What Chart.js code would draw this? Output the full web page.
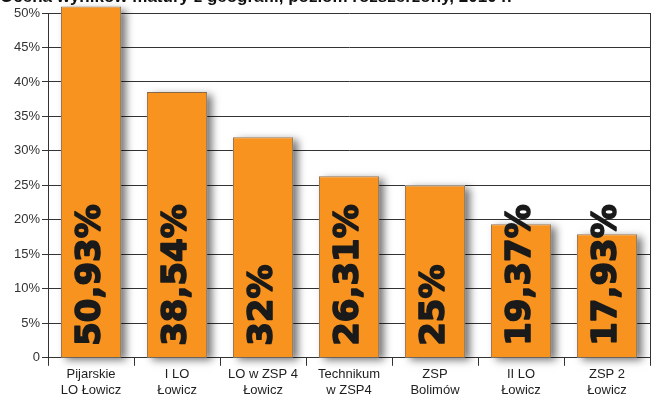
<!DOCTYPE html>
<html>
<head>
<meta charset="utf-8">
<script src="https://cdn.jsdelivr.net/npm/chart.js@4"></script>
<style>
  html, body { margin: 0; padding: 0; background: #fff; }
  #wrap { width: 657px; height: 401px; }
</style>
</head>
<body>
<div id="wrap"><canvas id="wykres"></canvas></div>
<script>
// dane
const szkoly = [
  ["Pijarskie", "LO Łowicz"],
  ["I LO", "Łowicz"],
  ["LO w ZSP 4", "Łowicz"],
  ["Technikum", "w ZSP4"],
  ["ZSP", "Bolimów"],
  ["II LO", "Łowicz"],
  ["ZSP 2", "Łowicz"],
];
const wyniki = [50.93, 38.54, 32, 26.31, 25, 19.37, 17.93];
const podzialkaY = [0, 5, 10, 15, 20, 25, 30, 35, 40, 45, 50];
const tytul = "Ocena wyników matury z geografii, poziom rozszerzony, 2010 r.";

const kolorSlupka = "#f7931e";
const kolorRamki = "#8c6a48";

// cień pod słupkami (rysowany przed słupkami)
const cienSlupkow = {
  id: "cienSlupkow",
  beforeDatasetsDraw(chart) {
    const ctx = chart.ctx;
    const meta = chart.getDatasetMeta(0);
    ctx.save();
    ctx.fillStyle = "#fff";
    ctx.shadowColor = "rgba(0,0,0,0.55)";
    ctx.shadowBlur = 8;
    ctx.shadowOffsetX = 5;
    ctx.shadowOffsetY = 3;
    meta.data.forEach((bar) => {
      const p = bar.getProps(["x", "y", "base", "width"], true);
      ctx.fillRect(p.x - p.width / 2, p.y, p.width, p.base - p.y);
    });
    ctx.restore();
  },
};

// pionowe napisy z wartościami + prawa krawędź + obcięty tytuł
const napisy = {
  id: "napisy",
  afterDatasetsDraw(chart) {
    const ctx = chart.ctx;
    const meta = chart.getDatasetMeta(0);
    const y0 = chart.scales.y.getPixelForValue(0);
    ctx.save();
    ctx.fillStyle = "#1a1a1a";
    ctx.strokeStyle = "#1a1a1a";
    ctx.lineWidth = 1.6;
    ctx.lineJoin = "round";
    ctx.font = "bold 34px 'DejaVu Sans'";
    ctx.textAlign = "left";
    ctx.textBaseline = "middle";
    meta.data.forEach((bar, i) => {
      const txt = String(wyniki[i]).replace(".", ",") + "%";
      ctx.save();
      ctx.translate(bar.x, y0 - 12);
      ctx.rotate(-Math.PI / 2);
      ctx.fillText(txt, 0, 0);
      ctx.strokeText(txt, 0, 0);
      ctx.restore();
    });
    ctx.restore();
  },
  afterDraw(chart) {
    const ctx = chart.ctx;
    const a = chart.chartArea;
    ctx.save();
    ctx.strokeStyle = "#333";
    ctx.lineWidth = 1;
    ctx.beginPath();
    ctx.moveTo(Math.round(a.right) + 0.5, a.top);
    ctx.lineTo(Math.round(a.right) + 0.5, a.bottom);
    ctx.stroke();
    ctx.fillStyle = "#111";
    ctx.font = "bold 17px 'Liberation Sans'";
    ctx.textAlign = "left";
    ctx.textBaseline = "alphabetic";
    ctx.fillText(tytul, 0, 2);
    ctx.restore();
  },
};

new Chart(document.getElementById("wykres"), {
  type: "bar",
  data: {
    labels: szkoly,
    datasets: [
      {
        data: wyniki,
        backgroundColor: kolorSlupka,
        borderColor: kolorRamki,
        borderWidth: 1,
        barPercentage: 0.7,
        categoryPercentage: 1,
        clip: false,
      },
    ],
  },
  options: {
    responsive: true,
    maintainAspectRatio: false,
    animation: false,
    layout: { padding: { top: 13, right: 7, left: 12, bottom: 2 } },
    plugins: {
      legend: { display: false },
      tooltip: { enabled: false },
    },
    scales: {
      x: {
        grid: {
          offset: true,
          drawOnChartArea: false,
          drawTicks: true,
          tickLength: 8,
          color: "#333",
        },
        border: { display: true, color: "#333", width: 1 },
        ticks: {
          color: "#1e1e1e",
          font: { family: "'Liberation Sans Narrow', 'Liberation Sans'", size: 13 },
          padding: 1,
          maxRotation: 0,
          autoSkip: false,
        },
      },
      y: {
        min: 0,
        max: 50,
        afterBuildTicks(axis) {
          axis.ticks = podzialkaY.map((v) => ({ value: v }));
        },
        grid: {
          color: "#333",
          lineWidth: 1,
          drawTicks: true,
          tickLength: 6,
        },
        border: { display: true, color: "#333", width: 1 },
        ticks: {
          color: "#333",
          font: { family: "'Liberation Sans'", size: 13 },
          padding: 2,
          callback: (v) => (v === 0 ? "0" : v + "%"),
        },
      },
    },
  },
  plugins: [cienSlupkow, napisy],
});
</script>
</body>
</html>
